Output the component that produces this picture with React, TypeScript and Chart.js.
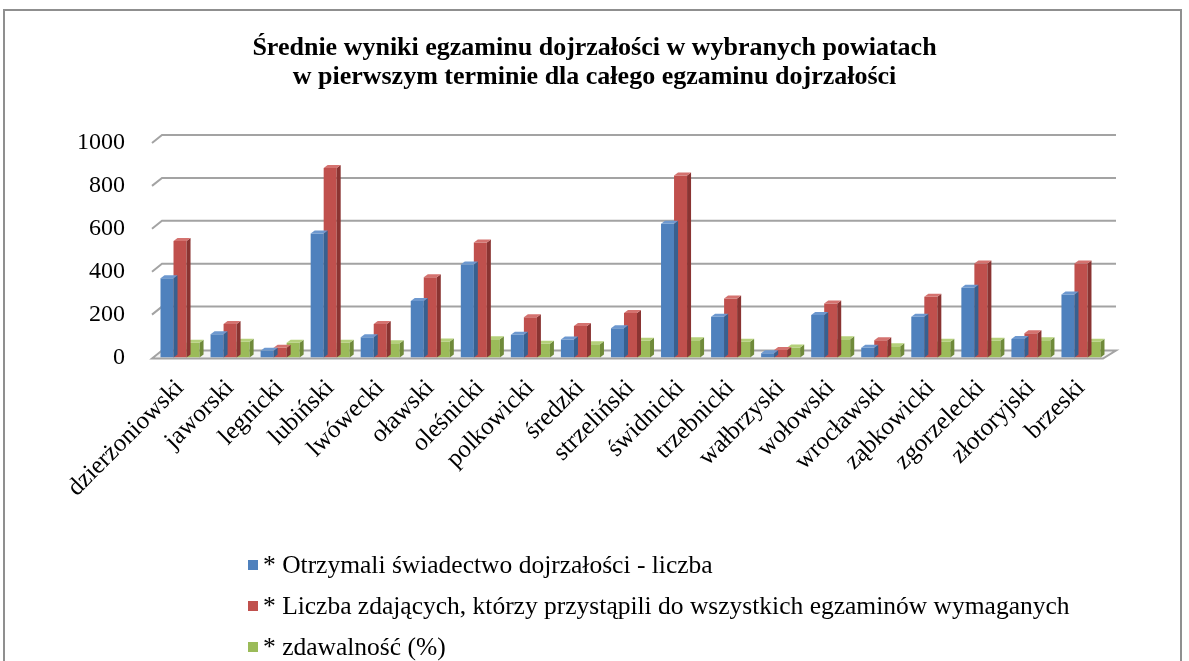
import { useEffect, useRef } from 'react';
import { Chart, registerables } from 'chart.js';

Chart.register(...registerables);

const TITLE_LINES = [
  'Średnie wyniki egzaminu dojrzałości w wybranych powiatach',
  'w pierwszym terminie dla całego egzaminu dojrzałości',
];

const CATEGORIES = [
  'dzierżoniowski', 'jaworski', 'legnicki', 'lubiński', 'lwówecki', 'oławski',
  'oleśnicki', 'polkowicki', 'średzki', 'strzeliński', 'świdnicki', 'trzebnicki',
  'wałbrzyski', 'wołowski', 'wrocławski', 'ząbkowicki', 'zgorzelecki', 'złotoryjski', 'brzeski',
];

const SERIES_NAMES = [
  '* Otrzymali świadectwo dojrzałości - liczba',
  '* Liczba zdających, którzy przystąpili do wszystkich egzaminów wymaganych',
  '* zdawalność (%)',
];

const OTRZYMALI = [370, 108, 32, 578, 94, 263, 433, 106, 84, 136, 624, 190, 20, 198, 46, 190, 325, 86, 294];
const LICZBA = [543, 156, 46, 883, 156, 374, 536, 188, 147, 208, 849, 275, 35, 252, 81, 283, 438, 113, 438];
const ZDAWALNOSC = [69, 73, 69, 69, 66, 75, 85, 64, 62, 78, 80, 73, 47, 85, 53, 73, 78, 81, 73];

const Y_MIN = 0;
const Y_MAX = 1000;
const Y_STEP = 200;

const COLORS = [
  { front: '#4F81BD', top: '#6d98cf', side: '#38608f' },
  { front: '#C0504D', top: '#d4726f', side: '#8a3432' },
  { front: '#9BBB59', top: '#b4d07a', side: '#6f8a3a' },
];

const FONT = '"Liberation Serif", "Times New Roman", serif';
const BAR_DX = 4;
const BAR_DY = 3;
const WALL_DX = 10;
const WALL_DY = 8;

const bar3d = {
  id: 'bar3d',
  beforeDatasetsDraw(chart: any) {
    const { ctx, chartArea, scales } = chart;
    const y = scales.y;
    const left = chartArea.left - 3;
    const right = chartArea.right - 3;
    ctx.save();
    ctx.strokeStyle = '#a3a3a3';
    ctx.lineWidth = 2;
    for (const t of y.ticks) {
      if (t.value === Y_MIN) continue;
      const py = y.getPixelForValue(t.value);
      ctx.beginPath();
      ctx.moveTo(left, py);
      ctx.lineTo(left + WALL_DX, py - WALL_DY);
      ctx.lineTo(right + WALL_DX + 3, py - WALL_DY);
      ctx.stroke();
    }
    const p0 = y.getPixelForValue(Y_MIN) + 1;
    ctx.beginPath();
    ctx.moveTo(left, p0);
    ctx.lineTo(left + WALL_DX, p0 - WALL_DY);
    ctx.lineTo(right + WALL_DX + 3, p0 - WALL_DY);
    ctx.lineTo(right, p0);
    ctx.closePath();
    ctx.fillStyle = '#f3f3f3';
    ctx.fill();
    ctx.strokeStyle = '#a3a3a3';
    ctx.lineWidth = 2;
    ctx.stroke();
    ctx.restore();
  },
  afterDatasetDraw(chart: any, args: any) {
    const { ctx } = chart;
    const c = COLORS[args.index];
    ctx.save();
    for (const el of args.meta.data) {
      const { x, y, base, width } = el.getProps(['x', 'y', 'base', 'width'], true);
      const l = x - width / 2;
      const r = x + width / 2;
      ctx.beginPath();
      ctx.moveTo(r, y);
      ctx.lineTo(r + BAR_DX, y - BAR_DY);
      ctx.lineTo(r + BAR_DX, base - BAR_DY);
      ctx.lineTo(r, base);
      ctx.closePath();
      ctx.fillStyle = c.side;
      ctx.fill();
      ctx.beginPath();
      ctx.moveTo(l, y);
      ctx.lineTo(l + BAR_DX, y - BAR_DY);
      ctx.lineTo(r + BAR_DX, y - BAR_DY);
      ctx.lineTo(r, y);
      ctx.closePath();
      ctx.fillStyle = c.top;
      ctx.fill();
    }
    ctx.restore();
  },
};

export default function App() {
  const ref = useRef<HTMLCanvasElement | null>(null);

  useEffect(() => {
    if (!ref.current) return;
    const series = [OTRZYMALI, LICZBA, ZDAWALNOSC];
    const chart = new Chart(ref.current, {
      type: 'bar',
      data: {
        labels: CATEGORIES,
        datasets: series.map((d, i) => ({
          label: SERIES_NAMES[i],
          data: d,
          backgroundColor: COLORS[i].front,
          borderWidth: 0,
          barPercentage: 1,
          categoryPercentage: 0.78,
        })),
      },
      options: {
        animation: false,
        responsive: false,
        devicePixelRatio: 1,
        layout: { padding: { top: 143, right: 83, left: 0, bottom: 0 } },
        plugins: { legend: { display: false }, title: { display: false }, tooltip: { enabled: false } },
        scales: {
          x: {
            grid: { display: false, drawTicks: false },
            border: { display: false },
            afterFit: (s: any) => { s.height = 303.5; },
            ticks: {
              autoSkip: false,
              minRotation: 45,
              maxRotation: 45,
              padding: 16,
              color: '#000',
              font: { family: FONT, size: 25 },
            },
          },
          y: {
            min: Y_MIN,
            max: Y_MAX,
            grid: { display: false, drawTicks: false },
            border: { display: false },
            afterFit: (s: any) => { s.width = 155; },
            ticks: {
              stepSize: Y_STEP,
              padding: 30,
              color: '#000',
              font: { family: FONT, size: 24 },
              callback: (v: any) => String(v),
            },
          },
        },
      },
      plugins: [bar3d],
    });
    return () => chart.destroy();
  }, []);

  return (
    <div style={{ position: 'absolute', left: 0, top: 0, width: 1189, height: 661, overflow: 'hidden', background: '#fff' }}>
      <div style={{ position: 'absolute', left: 3, top: 9, width: 1179, height: 700, border: '2px solid #8f8f8f', boxSizing: 'border-box' }} />
      <canvas ref={ref} width={1189} height={661} style={{ position: 'absolute', left: 0, top: 0, width: 1189, height: 661 }} />
      <div style={{ position: 'absolute', left: 0, top: 32, width: 1189, textAlign: 'center', fontFamily: FONT, fontWeight: 'bold', fontSize: 26, lineHeight: '29px', color: '#000' }}>
        {TITLE_LINES.map((t) => <div key={t}>{t}</div>)}
      </div>
      <div style={{ position: 'absolute', left: 248, top: 544, fontFamily: FONT, fontSize: 25.5, color: '#000' }}>
        {SERIES_NAMES.map((n, i) => (
          <div key={n} style={{ height: 41, display: 'flex', alignItems: 'center' }}>
            <span style={{ display: 'inline-block', width: 10, height: 10, background: COLORS[i].front, marginRight: 5 }} />
            <span>{n}</span>
          </div>
        ))}
      </div>
    </div>
  );
}
